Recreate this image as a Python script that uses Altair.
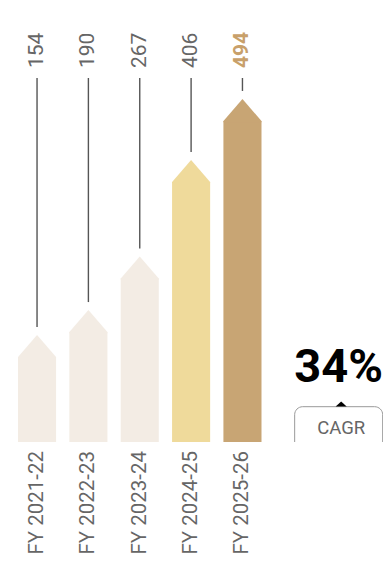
import altair as alt
import pandas as pd

years = ["FY 2021-22", "FY 2022-23", "FY 2023-24", "FY 2024-25", "FY 2025-26"]
values = [154, 190, 267, 406, 494]
groups = ["past", "past", "past", "current", "target"]
group_domain = ["past", "current", "target"]
group_colors = ["#F3ECE4", "#EFDA9B", "#C8A574"]
cagr_value = "34%"
cagr_label = "CAGR"

slots = years + [" ", "CAGR"]

df = pd.DataFrame({"year": years, "value": values, "group": groups})
ann = pd.DataFrame({"year": ["CAGR"], "pct": [cagr_value], "label": [cagr_label]})

FONT = "Roboto"
xscale = alt.Scale(domain=slots, paddingInner=0.2585, paddingOuter=0.183, align=0)
x = alt.X("year:N", scale=xscale, axis=None, sort=slots)
yscale = alt.Scale(domain=[0, 625], nice=False, zero=True)
y = alt.Y("value:Q", scale=yscale, axis=None)
color = alt.Color("group:N", scale=alt.Scale(domain=group_domain, range=group_colors), legend=None)

cap_path = "M-1,1.22L-1,1.158L0,0L1,1.158L1,1.22Z"

base = alt.Chart(df)

bars = base.mark_bar(yOffset=22).encode(x=x, y=y, y2=alt.datum(0), color=color)
caps = base.mark_point(shape=cap_path, size=1444, filled=True, opacity=1, strokeWidth=0).encode(
    x=x, y=y, color=color)
rules = base.mark_rule(yOffset=-8, color="#555555", strokeWidth=1.4).encode(
    x=x, y=y, y2=alt.value(70))
labels = base.transform_filter(alt.datum.group != "target").mark_text(
    angle=270, align="left", baseline="middle", fontSize=21, font=FONT, color="#666666"
).encode(x=x, y=alt.value(60), text="value:Q")
label_hi = base.transform_filter(alt.datum.group == "target").mark_text(
    angle=270, align="left", baseline="middle", fontSize=21, font=FONT, fontWeight="bold",
    color="#C8A06A"
).encode(x=x, y=alt.value(60), text="value:Q")
cats = base.mark_text(
    angle=270, align="right", baseline="middle", fontSize=20.5, font=FONT, color="#666666", yOffset=9
).encode(x=x, y=alt.datum(0), text="year:N")

abase = alt.Chart(ann)
box = abase.mark_bar(width=88, cornerRadius=8, fill="white", stroke="#999999", strokeWidth=1,
                     clip=True, xOffset=-6.5).encode(
    x=x, y=alt.value(398.7), y2=alt.value(480))
tri = abase.mark_point(shape="M-1,0.9L0,0L1,0.9Z", size=121, filled=True, opacity=1,
                       strokeWidth=0, color="#000000", xOffset=-4).encode(x=x, y=alt.value(393.5))
pct = abase.mark_text(fontSize=47, fontWeight="bold", font=FONT, color="#000000",
                      baseline="alphabetic", align="center", xOffset=-6.5).encode(
    x=x, y=alt.value(374), text="pct:N")
lab = abase.mark_text(fontSize=18.5, font=FONT, color="#666666",
                      baseline="alphabetic", align="center", xOffset=-4).encode(
    x=x, y=alt.value(426.3), text="label:N")

chart = alt.layer(bars, caps, rules, labels, label_hi, cats, box, tri, pct, lab).properties(
    width=365, height=434,
    padding={"left": 10, "top": 0, "right": 0, "bottom": 112},
    autosize=alt.AutoSizeParams(type="none"),
).configure_view(stroke=None)

chart.save("out.html", embed_options={"renderer": "svg", "actions": False})
